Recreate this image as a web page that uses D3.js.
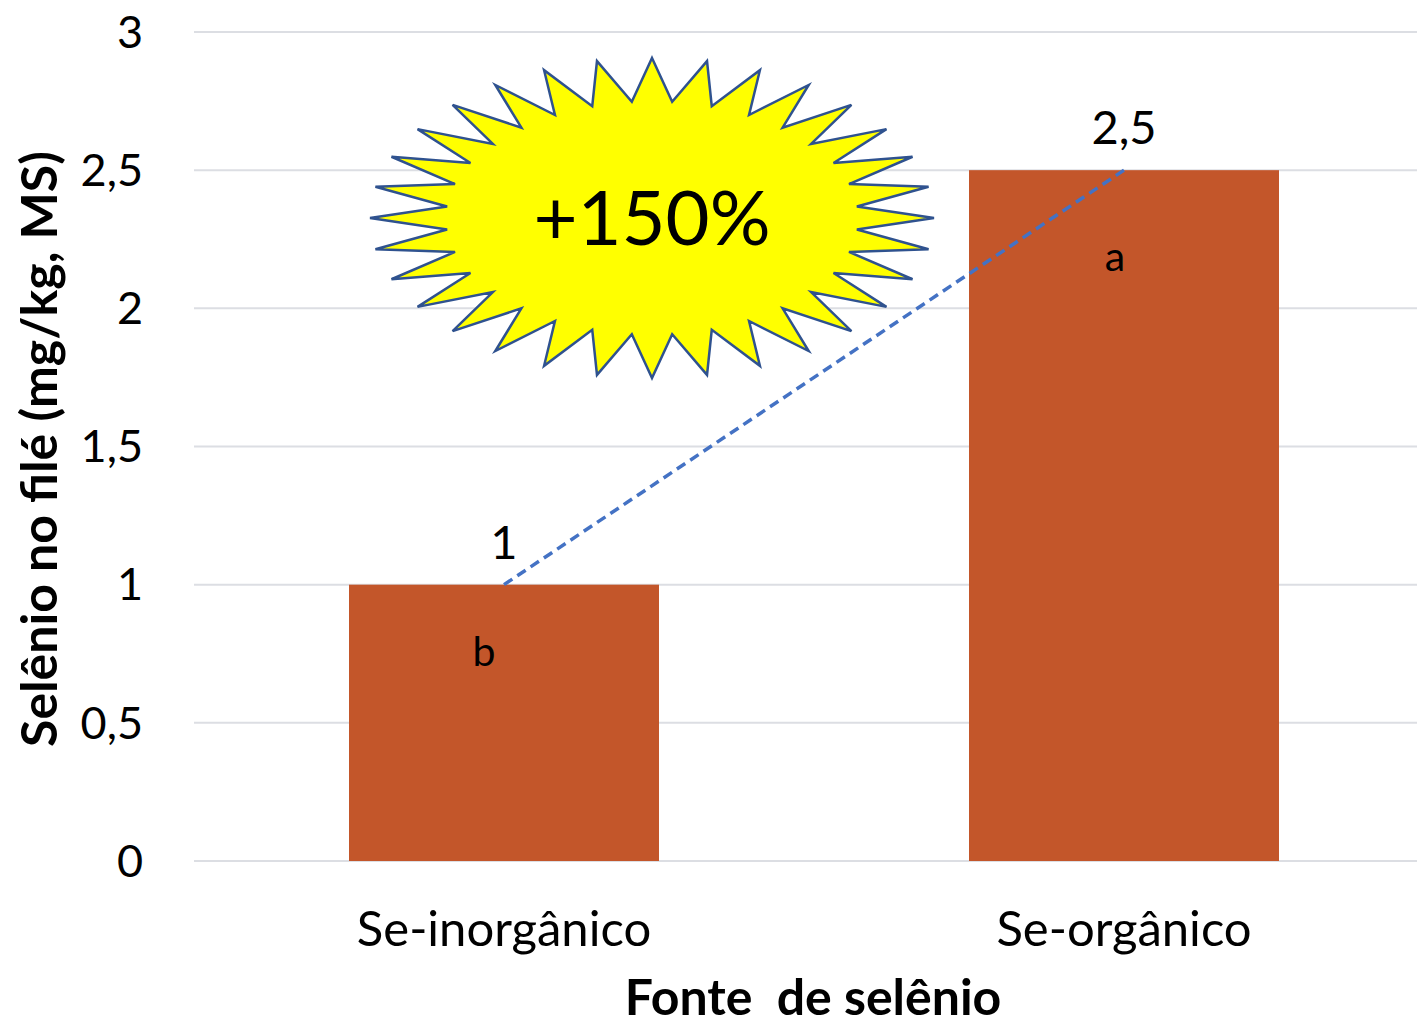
<!DOCTYPE html>
<html>
<head>
<meta charset="utf-8">
<script src="https://cdn.jsdelivr.net/npm/d3@7"></script>
<style>
  body { margin: 0; background: #fff; }
  text { font-family: Lato, "Open Sans", sans-serif; fill: #000; }
</style>
</head>
<body>
<svg id="chart" width="1417" height="1024"></svg>
<script>
// data
var categories = ["Se-inorgânico", "Se-orgânico"];
var values = [1, 2.5];
var letters = ["b", "a"];
var valueLabels = ["1", "2,5"];
var yTicks = [0, 0.5, 1, 1.5, 2, 2.5, 3];
var yTickLabels = ["0", "0,5", "1", "1,5", "2", "2,5", "3"];
var increaseLabel = "+150%";

var svg = d3.select("#chart"),
    width = +svg.attr("width"),
    height = +svg.attr("height");

var x = d3.scaleBand()
    .domain(categories)
    .range([194, 1434])
    .paddingInner(0.5)
    .paddingOuter(0.25);

var y = d3.scaleLinear()
    .domain([0, 3])
    .range([861, 32]);

// gridlines
svg.append("g").selectAll("line")
  .data(yTicks)
  .enter().append("line")
    .attr("x1", 194)
    .attr("x2", width)
    .attr("y1", function(d) { return y(d); })
    .attr("y2", function(d) { return y(d); })
    .attr("stroke", "#dcdee3")
    .attr("stroke-width", 2);

// y tick labels
svg.append("g").selectAll("text")
  .data(yTicks)
  .enter().append("text")
    .attr("x", 143)
    .attr("y", function(d) { return y(d); })
    .attr("dy", "0.35em")
    .attr("text-anchor", "end")
    .style("font-size", "45px")
    .text(function(d, i) { return yTickLabels[i]; });

// bars
svg.append("g").selectAll("rect")
  .data(values)
  .enter().append("rect")
    .attr("x", function(d, i) { return x(categories[i]); })
    .attr("y", function(d) { return y(d); })
    .attr("width", x.bandwidth())
    .attr("height", function(d) { return y(0) - y(d); })
    .attr("fill", "#c3562a");

// dashed line between bar tops
var linePts = values.map(function(d, i) { return [x(categories[i]) + x.bandwidth() / 2, y(d)]; });
svg.append("path")
    .attr("d", d3.line()(linePts))
    .attr("fill", "none")
    .attr("stroke", "#4472c4")
    .attr("stroke-width", 3.5)
    .attr("stroke-dasharray", "10,6");

// value labels
svg.append("g").selectAll("text")
  .data(values)
  .enter().append("text")
    .attr("x", function(d, i) { return x(categories[i]) + x.bandwidth() / 2; })
    .attr("y", function(d) { return y(d) - 26; })
    .attr("text-anchor", "middle")
    .style("font-size", "47px")
    .text(function(d, i) { return valueLabels[i]; });

// significance letters
svg.append("g").selectAll("text")
  .data(values)
  .enter().append("text")
    .attr("x", function(d, i) { return x(categories[i]) + x.bandwidth() / 2 - (i === 0 ? 20 : 9); })
    .attr("y", function(d, i) { return y(d) + (i === 0 ? 81 : 101); })
    .attr("text-anchor", "middle")
    .style("font-size", "41px")
    .text(function(d, i) { return letters[i]; });

// category labels
svg.append("g").selectAll("text")
  .data(categories)
  .enter().append("text")
    .attr("x", function(d) { return x(d) + x.bandwidth() / 2; })
    .attr("y", 946)
    .attr("text-anchor", "middle")
    .style("font-size", "49px")
    .text(function(d) { return d; });

// axis titles
svg.append("text")
    .attr("x", 813)
    .attr("y", 1015)
    .attr("text-anchor", "middle")
    .style("font-size", "50px")
    .style("font-weight", "bold")
    .style("white-space", "pre")
    .attr("xml:space", "preserve")
    .text("Fonte  de selênio");

svg.append("text")
    .attr("transform", "translate(57,449) rotate(-90)")
    .attr("text-anchor", "middle")
    .style("font-size", "50px")
    .style("font-weight", "bold")
    .text("Selênio no filé (mg/kg, MS)");

// starburst callout
var cx = 652, cy = 218, rx = 282, ry = 160, nPts = 32;
var star = d3.range(nPts * 2).map(function(i) {
  var a = -Math.PI / 2 + i * Math.PI / nPts,
      r = i % 2 === 0 ? 1 : 0.73;
  return [cx + rx * r * Math.cos(a), cy + ry * r * Math.sin(a)];
});
svg.append("path")
    .attr("d", d3.line()(star) + "Z")
    .attr("fill", "#ffff00")
    .attr("stroke", "#2f528f")
    .attr("stroke-width", 2.5)
    .attr("stroke-linejoin", "miter");

svg.append("text")
    .attr("x", cx)
    .attr("y", cy)
    .attr("dy", "0.36em")
    .attr("text-anchor", "middle")
    .style("font-size", "76px")
    .text(increaseLabel);
</script>
</body>
</html>
